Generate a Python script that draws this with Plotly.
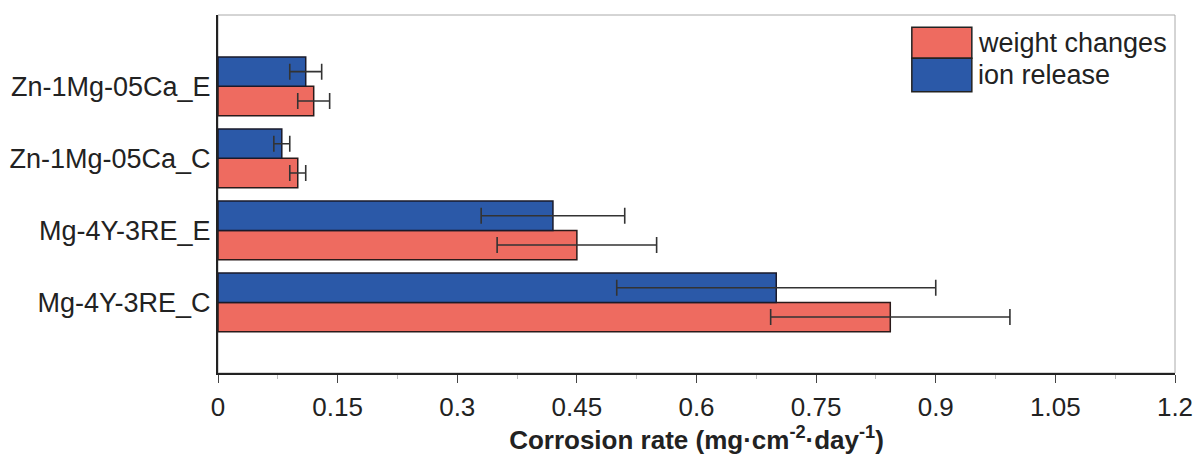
import plotly.graph_objects as go

categories = ["Mg-4Y-3RE_C", "Mg-4Y-3RE_E", "Zn-1Mg-05Ca_C", "Zn-1Mg-05Ca_E"]
weight_changes = [0.843, 0.45, 0.10, 0.12]
weight_err = [0.15, 0.10, 0.01, 0.02]
ion_release = [0.70, 0.42, 0.08, 0.11]
ion_err = [0.20, 0.09, 0.01, 0.02]
x_ticks = [0, 0.15, 0.3, 0.45, 0.6, 0.75, 0.9, 1.05, 1.2]
x_ticklabels = ["0", "0.15", "0.3", "0.45", "0.6", "0.75", "0.9", "1.05", "1.2"]

RED = "#EE6B60"
BLUE = "#2B59A8"
FONT = "Liberation Sans, Arial, sans-serif"

fig = go.Figure()
fig.add_trace(go.Bar(
    y=categories, x=weight_changes, orientation="h", name="weight changes",
    marker=dict(color=RED, line=dict(color="#2a1a1a", width=1.5)),
    error_x=dict(type="data", array=weight_err, color="#333333", thickness=1.6, width=8),
))
fig.add_trace(go.Bar(
    y=categories, x=ion_release, orientation="h", name="ion release",
    marker=dict(color=BLUE, line=dict(color="#1a1a2a", width=1.5)),
    error_x=dict(type="data", array=ion_err, color="#333333", thickness=1.6, width=8),
))

fig.update_layout(
    width=1196, height=457,
    margin=dict(l=218, r=21, t=15, b=84, autoexpand=False),
    paper_bgcolor="white", plot_bgcolor="white",
    barmode="group", bargap=0.186, bargroupgap=0,
    showlegend=False,
    font=dict(family=FONT, color="#222222"),
)
fig.update_xaxes(
    range=[0, 1.2], tickvals=x_ticks, ticktext=x_ticklabels,
    automargin=False,
    showgrid=False, zeroline=False,
    showline=True, linecolor="#222222", linewidth=2,
    ticks="outside", ticklen=8, tickwidth=1, tickcolor="#444444",
    tickfont=dict(size=26, family=FONT, color="#222222"),
    ticklabelstandoff=2,
    minor=dict(ticks="outside", ticklen=4, dtick=0.075, tick0=0, tickcolor="#bbbbbb", showgrid=False),
    title=dict(text="<b>Corrosion rate (mg·cm<sup>-2</sup>·day<sup>-1</sup>)</b>",
               font=dict(size=26, family=FONT, color="#222222"), standoff=0),
)
fig.update_yaxes(
    categoryorder="array", categoryarray=categories,
    range=[-0.98, 3.99],
    automargin=False,
    showgrid=False, zeroline=False,
    showline=True, linecolor="#222222", linewidth=2,
    ticks="", tickfont=dict(size=27, family=FONT, color="#222222"),
    ticklabelstandoff=0,
)

# light frame on top/right
fig.add_shape(type="rect", xref="paper", yref="paper", x0=0, x1=1, y0=0, y1=1,
              line=dict(color="#aaaaaa", width=1), layer="below")

# custom legend
leg = [("weight changes", RED, 0.9656, 0.879, 0.922), ("ion release", BLUE, 0.879, 0.7858, 0.832)]
for name, col, ytop, ybot, ytext in leg:
    fig.add_shape(type="rect", xref="paper", yref="paper", x0=0.725, x1=0.7877, y0=ybot, y1=ytop,
                  fillcolor=col, line=dict(color="#222222", width=1.5))
    fig.add_annotation(xref="paper", yref="paper", x=0.792, y=ytext, xanchor="left", yanchor="middle",
                       text=name, showarrow=False, font=dict(size=27, family=FONT, color="#222222"))

fig.write_html("out.html", config={"displayModeBar": False},
               post_script="document.body.style.margin='0';")
